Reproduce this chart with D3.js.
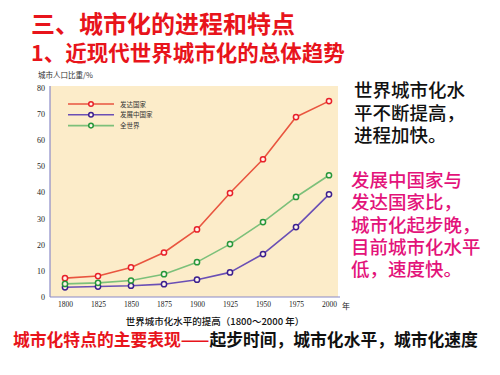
<!DOCTYPE html>
<html>
<head>
<meta charset="utf-8">
<script src="https://cdn.jsdelivr.net/npm/d3@7"></script>
<style>
  body { margin: 0; background: #fff; }
  svg { display: block; }
  text { font-family: "Noto Sans CJK SC", sans-serif; }
  .tick text { font-family: "Liberation Serif", serif; }
</style>
</head>
<body>
<svg id="chart" width="500" height="375"></svg>
<script>
// years on x axis
const years = [1800, 1825, 1850, 1875, 1900, 1925, 1950, 1975, 2000];
// urban population share (%)
const developed  = [7.2, 8.0, 11.3, 17.0, 25.8, 39.7, 52.6, 68.7, 74.8];
const developing = [3.7, 4.0, 4.3, 4.9, 6.6, 9.4, 16.4, 26.7, 39.2];
const world      = [5.0, 5.4, 6.3, 8.7, 13.3, 20.2, 28.6, 38.2, 46.5];
const yTicks = [0, 10, 20, 30, 40, 50, 60, 70, 80];

const seriesNames = ["发达国家", "发展中国家", "全世界"];
const seriesData = [developed, developing, world];
const lineColors = ["#e9553f", "#6a4fb5", "#7cc07a"];
const dotColors  = ["#e8202a", "#3b1f8f", "#27973a"];

const svg = d3.select("#chart");

// headings
svg.append("text").attr("x", 31).attr("y", 33)
  .attr("font-size", 24).attr("font-weight", "bold").attr("fill", "#e8141b")
  .text("三、城市化的进程和特点");
svg.append("text").attr("x", 31).attr("y", 61)
  .attr("font-size", 21.5).attr("font-weight", "bold").attr("fill", "#e8141b")
  .text("1、近现代世界城市化的总体趋势");

const x = d3.scaleLinear().domain([1800, 2000]).range([65, 329]);
const y = d3.scaleLinear().domain([0, 80]).range([297, 87.5]);

// plot background
svg.append("rect")
  .attr("x", 50).attr("y", 86)
  .attr("width", 288).attr("height", 297 - 86)
  .attr("fill", "#fcecc9");

svg.append("text").attr("x", 38).attr("y", 78)
  .attr("font-size", 7.5).attr("fill", "#333")
  .text("城市人口比重/%");

// axes
const yAxis = d3.axisLeft(y).tickValues(yTicks).tickSize(0).tickPadding(5);
const gy = svg.append("g").attr("transform", "translate(50,0)").call(yAxis);
gy.select(".domain").attr("stroke", "#8a8ac8").attr("stroke-width", 1.2)
  .attr("d", "M0,86V297");
gy.selectAll(".tick text").attr("font-size", 8).attr("fill", "#222");

const xAxis = d3.axisBottom(x).tickValues(years).tickFormat(d3.format("d")).tickSize(0).tickPadding(5);
const gx = svg.append("g").attr("transform", "translate(0,297)").call(xAxis);
gx.select(".domain").attr("stroke", "#8a8ac8").attr("stroke-width", 1.2)
  .attr("d", "M50,0H340");
gx.selectAll(".tick text").attr("font-size", 7.5).attr("fill", "#222");
svg.append("text").attr("x", 342).attr("y", 308.5)
  .attr("font-size", 8).attr("fill", "#222").text("年");

svg.append("text").attr("x", 215).attr("y", 324.5)
  .attr("text-anchor", "middle").attr("font-size", 9.5).attr("font-weight", 500).attr("fill", "#111")
  .text("世界城市化水平的提高（1800～2000 年）");

// lines and markers
const line = d3.line()
  .x((d, i) => x(years[i]))
  .y(d => y(d));

seriesData.forEach((vals, k) => {
  svg.append("path").datum(vals)
    .attr("d", line)
    .attr("fill", "none")
    .attr("stroke", lineColors[k])
    .attr("stroke-width", 1.6)
    .attr("stroke-linejoin", "round");
  svg.selectAll(null).data(vals).enter().append("circle")
    .attr("cx", (d, i) => x(years[i]))
    .attr("cy", d => y(d))
    .attr("r", 2.6)
    .attr("fill", "#fff4e8")
    .attr("stroke", dotColors[k])
    .attr("stroke-width", 1.5);
});

// legend
const legend = svg.append("g");
seriesNames.forEach((name, k) => {
  const ly = 104 + k * 10.8;
  legend.append("line").attr("x1", 68).attr("x2", 114).attr("y1", ly).attr("y2", ly)
    .attr("stroke", lineColors[k]).attr("stroke-width", 1.6);
  legend.append("circle").attr("cx", 91).attr("cy", ly).attr("r", 2.3)
    .attr("fill", "#fff4e8").attr("stroke", dotColors[k]).attr("stroke-width", 1.5);
  legend.append("text").attr("x", 120).attr("y", ly + 2.5)
    .attr("font-size", 6.5).attr("fill", "#333").text(name);
});

// side notes
const notesBlack = ["世界城市化水", "平不断提高，", "进程加快。"];
const notesPink = ["发展中国家与", "发达国家比，", "城市化起步晚，", "目前城市化水平", "低，速度快。"];
svg.append("g").selectAll("text").data(notesBlack).enter().append("text")
  .attr("x", 354).attr("y", (d, i) => 97 + i * 22.5)
  .attr("font-size", 18.5).attr("font-weight", 500).attr("fill", "#111").text(d => d);
svg.append("g").selectAll("text").data(notesPink).enter().append("text")
  .attr("x", 351).attr("y", (d, i) => 187 + i * 22.3)
  .attr("font-size", 18.5).attr("font-weight", 500).attr("fill", "#e3137a").text(d => d);

// bottom line
const bottom = svg.append("text").attr("x", 13).attr("y", 345.5)
  .attr("font-size", 16.8).attr("font-weight", "bold");
bottom.append("tspan").attr("fill", "#e8141b").text("城市化特点的主要表现——");
bottom.append("tspan").attr("fill", "#111").text("起步时间，城市化水平，城市化速度");
</script>
</body>
</html>
